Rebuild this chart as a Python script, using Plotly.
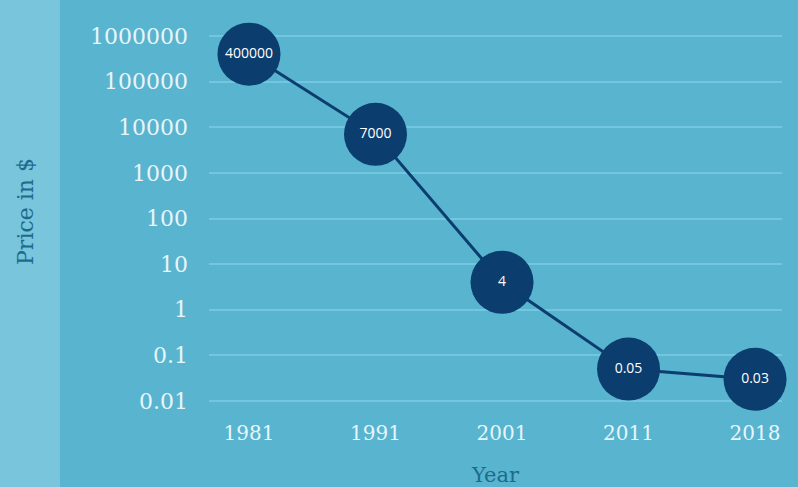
import plotly.graph_objects as go

years = ["1981", "1991", "2001", "2011", "2018"]
prices = [400000, 7000, 4, 0.05, 0.03]
price_labels = ["400000", "7000", "4", "0.05", "0.03"]
y_tickvals = [0.01, 0.1, 1, 10, 100, 1000, 10000, 100000, 1000000]
y_ticktext = ["0.01", "0.1", "1", "10", "100", "1000", "10000", "100000", "1000000"]

W, H = 798, 487
ML, MR, MT, MB = 209, 16, 13, 77
BG = "#58b4cf"
STRIP = "#78c5dc"
NAVY = "#0b3d6e"
TICK = "#e6f6fa"
TITLE = "#1d6b8c"

fig = go.Figure()
fig.add_trace(go.Scatter(
    x=list(range(len(years))), y=prices,
    mode="lines+markers+text",
    line=dict(color=NAVY, width=3),
    marker=dict(size=63, color=NAVY, line=dict(width=0)),
    text=price_labels, textposition="middle center",
    textfont=dict(family="Open Sans", size=14, color="white"),
    cliponaxis=False, hoverinfo="skip", showlegend=False,
))

pw = W - ML - MR
fig.add_shape(type="rect", xref="paper", yref="paper",
              x0=(0 - ML) / pw, x1=(60 - ML) / pw,
              y0=-MB / (H - MT - MB) - 0.1, y1=1 + MT / (H - MT - MB) + 0.1,
              fillcolor=STRIP, line=dict(width=0), layer="below")

fig.update_layout(
    width=W, height=H,
    margin=dict(l=ML, r=MR, t=MT, b=MB, autoexpand=False),
    paper_bgcolor=BG, plot_bgcolor=BG,
    xaxis=dict(
        tickmode="array", tickvals=list(range(len(years))), ticktext=years,
        range=[-0.316, 4.213], showgrid=False, zeroline=False, showline=False,
        ticks="", tickfont=dict(family="DejaVu Serif", size=20, color=TICK),
        ticklabelstandoff=9, automargin=False,
        title=dict(text="Year", font=dict(family="DejaVu Serif", size=21, color=TITLE), standoff=26),
    ),
    yaxis=dict(
        type="log", range=[-2.197, 6.504],
        tickmode="array", tickvals=y_tickvals, ticktext=y_ticktext,
        showgrid=True, gridcolor="rgba(120,200,225,0.9)", gridwidth=2,
        zeroline=False, showline=False, ticks="",
        tickfont=dict(family="DejaVu Serif", size=22, color=TICK),
        ticklabelstandoff=20, automargin=False,
        title=dict(text="Price in $", font=dict(family="DejaVu Serif", size=22, color=TITLE), standoff=50),
    ),
)

fig.write_html("out.html")
